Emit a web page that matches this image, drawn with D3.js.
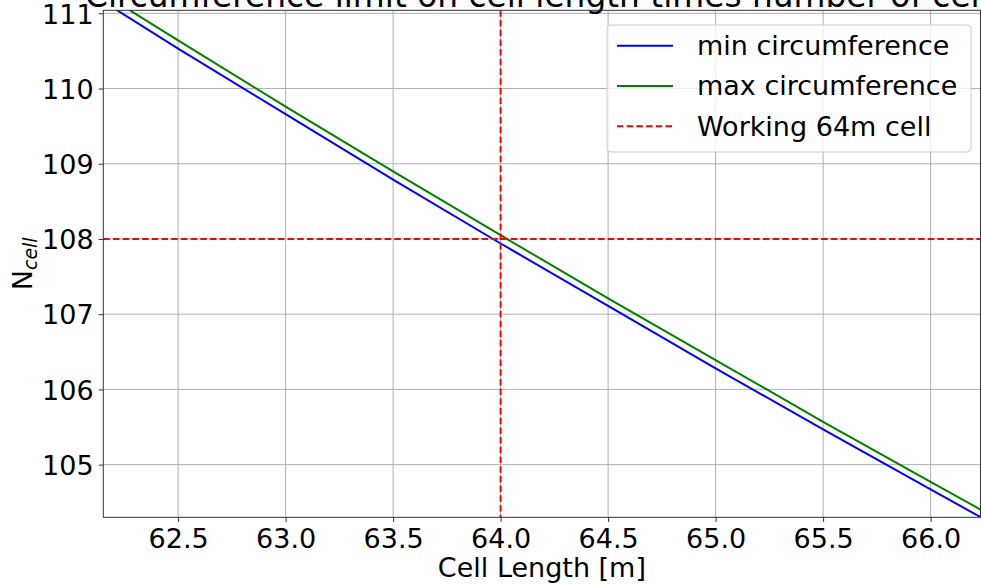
<!DOCTYPE html>
<html>
<head>
<meta charset="utf-8">
<script src="https://cdn.jsdelivr.net/npm/d3@7"></script>
<style>
  html, body { margin: 0; padding: 0; background: #fff; }
  svg { display: block; font-family: "DejaVu Sans", sans-serif; }
</style>
</head>
<body>
<svg id="chart" width="981" height="585"></svg>
<script>
// ---- data ----
const cellLengths = [62.0, 62.5, 63.0, 63.5, 64.0, 64.5, 65.0, 65.5, 66.0, 66.5];
const minCircumference = [111.43, 110.53, 109.66, 108.79, 107.94, 107.11, 106.28, 105.47, 104.67, 103.88];
const maxCircumference = [111.53, 110.64, 109.76, 108.90, 108.05, 107.21, 106.39, 105.57, 104.77, 103.98];
const workingLength = 64.0;
const workingCells = 108;
const xTicks = [62.5, 63.0, 63.5, 64.0, 64.5, 65.0, 65.5, 66.0];
const yTicks = [105, 106, 107, 108, 109, 110, 111];
const seriesNames = ["min circumference", "max circumference", "Working 64m cell"];
const titleText = "Circumference limit on cell length times number of cells";

const svg = d3.select("#chart");
const W = 981, H = 585;
const m = { left: 103.3, right: 980.5, top: 10.3, bottom: 517.3 };
const FS = 27;

const x = d3.scaleLinear().domain([62.152, 66.232]).range([m.left, m.right]);
const y = d3.scaleLinear().domain([104.30, 111.04]).range([m.bottom, m.top]);

svg.append("defs").append("clipPath").attr("id", "plotclip")
  .append("rect").attr("x", m.left).attr("y", m.top)
  .attr("width", m.right - m.left).attr("height", m.bottom - m.top);

// grid
const grid = svg.append("g");
grid.selectAll("line.gx").data(xTicks).enter().append("line")
  .attr("x1", d => x(d)).attr("x2", d => x(d))
  .attr("y1", m.top).attr("y2", m.bottom)
  .attr("stroke", "#b0b0b0").attr("stroke-width", 1);
grid.selectAll("line.gy").data(yTicks).enter().append("line")
  .attr("x1", m.left).attr("x2", m.right)
  .attr("y1", d => y(d)).attr("y2", d => y(d))
  .attr("stroke", "#b0b0b0").attr("stroke-width", 1);

// lines
const plot = svg.append("g").attr("clip-path", "url(#plotclip)");
const line = d3.line().x(d => x(d[0])).y(d => y(d[1]));
plot.append("path").datum(cellLengths.map((l, i) => [l, minCircumference[i]]))
  .attr("d", line).attr("fill", "none").attr("stroke", "#0000ff").attr("stroke-width", 2);
plot.append("path").datum(cellLengths.map((l, i) => [l, maxCircumference[i]]))
  .attr("d", line).attr("fill", "none").attr("stroke", "#008000").attr("stroke-width", 2);
plot.append("line")
  .attr("x1", x(workingLength)).attr("x2", x(workingLength))
  .attr("y1", m.top).attr("y2", m.bottom)
  .attr("stroke", "#ff0000").attr("stroke-width", 2).attr("stroke-dasharray", "6.5,3.2");
plot.append("line")
  .attr("x1", m.left).attr("x2", m.right)
  .attr("y1", y(workingCells)).attr("y2", y(workingCells))
  .attr("stroke", "#ff0000").attr("stroke-width", 2).attr("stroke-dasharray", "6.5,3.2");

// axes
const xAxis = svg.append("g").attr("transform", `translate(0,${m.bottom})`)
  .call(d3.axisBottom(x).tickValues(xTicks).tickFormat(d3.format(".1f")).tickSize(4.7).tickPadding(5));
const yAxis = svg.append("g").attr("transform", `translate(${m.left},0)`)
  .call(d3.axisLeft(y).tickValues(yTicks).tickFormat(d3.format("d")).tickSize(4.7).tickPadding(5));
[xAxis, yAxis].forEach(a => {
  a.select(".domain").remove();
  a.selectAll(".tick line").attr("stroke", "#333").attr("stroke-width", 1);
  a.selectAll(".tick text").attr("font-size", FS).attr("fill", "#000")
    .attr("font-family", "DejaVu Sans");
});
xAxis.selectAll(".tick text").attr("dy", "0.76em");
yAxis.selectAll(".tick text").attr("dy", "0.36em");

// spines
svg.append("rect").attr("x", m.left).attr("y", m.top)
  .attr("width", m.right - m.left).attr("height", m.bottom - m.top)
  .attr("fill", "none").attr("stroke", "#333").attr("stroke-width", 1);

// labels
svg.append("text").attr("x", (m.left + m.right) / 2).attr("y", 577)
  .attr("text-anchor", "middle").attr("font-size", FS).text("Cell Length [m]");
const yl = svg.append("text")
  .attr("transform", `translate(31.5,${(m.top + m.bottom) / 2}) rotate(-90)`)
  .attr("text-anchor", "middle").attr("font-size", FS);
yl.append("tspan").text("N");
yl.append("tspan").attr("font-size", FS * 0.7).attr("font-style", "italic")
  .attr("dy", 5).text("cell");

// title (clipped by top of image)
svg.append("text").attr("x", 85).attr("y", 7).attr("font-size", 32.8)
  .attr("text-anchor", "start").text(titleText);

// legend
const lg = svg.append("g");
lg.append("rect").attr("x", 607).attr("y", 25).attr("width", 364).attr("height", 127)
  .attr("rx", 4).attr("fill", "#fff").attr("fill-opacity", 0.8)
  .attr("stroke", "#cccccc").attr("stroke-width", 1);
const legendItems = [
  { name: seriesNames[0], color: "#0000ff", dash: null },
  { name: seriesNames[1], color: "#008000", dash: null },
  { name: seriesNames[2], color: "#ff0000", dash: "6.5,3.2" }
];
const rowY = d3.scaleLinear().domain([0, 2]).range([45.7, 126.2]);
legendItems.forEach((it, i) => {
  const ly = rowY(i);
  lg.append("line").attr("x1", 617).attr("x2", 673).attr("y1", ly).attr("y2", ly)
    .attr("stroke", it.color).attr("stroke-width", 2)
    .attr("stroke-dasharray", it.dash);
  lg.append("text").attr("x", 697).attr("y", ly + 9.5).attr("font-size", FS).text(it.name);
});
</script>
</body>
</html>
